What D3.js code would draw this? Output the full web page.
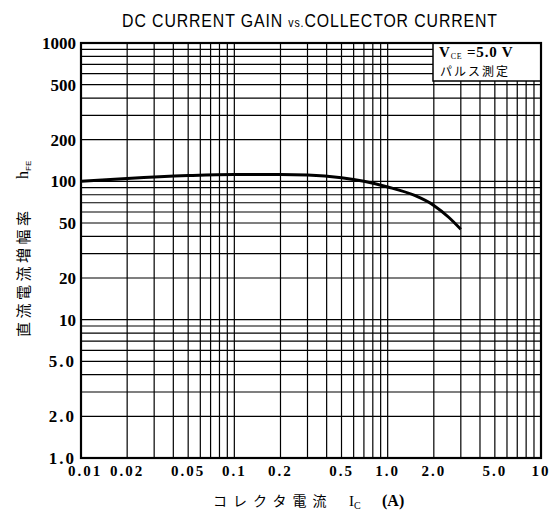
<!DOCTYPE html>
<html>
<head>
<meta charset="utf-8">
<script src="https://cdn.jsdelivr.net/npm/d3@7"></script>
<style>
  body { margin: 0; background: #fff; }
  svg { display: block; }
  text { fill: #000; }
</style>
</head>
<body>
<div id="chart"></div>
<script>
// データ (hFE vs Ic)
const icValues = [0.01, 0.02, 0.05, 0.1, 0.2, 0.3, 0.5, 0.7, 1.0, 1.5, 2.0, 2.5, 3.0];
const hfeValues = [100, 105, 110, 112, 112, 111, 106, 100, 91, 79, 67, 55, 45];
const xTicks = [0.01, 0.02, 0.05, 0.1, 0.2, 0.5, 1, 2, 5, 10];
const xTickLabels = ["0.01", "0.02", "0.05", "0.1", "0.2", "0.5", "1.0", "2.0", "5.0", "10"];
const yTicks = [1, 2, 5, 10, 20, 50, 100, 200, 500, 1000];
const yTickLabels = ["1.0", "2.0", "5.0", "10", "20", "50", "100", "200", "500", "1000"];

const margin = {top: 43, right: 17, bottom: 54, left: 81};
const W = 558, H = 512;
const width = W - margin.left - margin.right;
const height = H - margin.top - margin.bottom;

const svg = d3.select("#chart")
    .append("svg")
    .attr("width", W)
    .attr("height", H);

const g = svg.append("g")
    .attr("transform", `translate(${margin.left},${margin.top})`);

const x = d3.scaleLog().domain([0.01, 10]).range([0, width]);
const y = d3.scaleLog().domain([1, 1000]).range([height, 0]);

// グリッド (1〜9 ごと)
const gridX = [], gridY = [];
[0.01, 0.1, 1].forEach(d => { for (let k = 1; k < 10; k++) gridX.push(d * k); });
[1, 10, 100].forEach(d => { for (let k = 1; k < 10; k++) gridY.push(d * k); });

g.selectAll(".gx").data(gridX).join("line")
    .attr("x1", d => x(d)).attr("x2", d => x(d))
    .attr("y1", 0).attr("y2", height)
    .attr("stroke", "#000")
    .attr("stroke-width", 1.2);

g.selectAll(".gy").data(gridY).join("line")
    .attr("x1", 0).attr("x2", width)
    .attr("y1", d => y(d)).attr("y2", d => y(d))
    .attr("stroke", "#000")
    .attr("stroke-width", 1.2);

// 凡例の箱
const legend = g.append("g").attr("transform", `translate(${width - 108},0)`);
legend.append("rect")
    .attr("width", 108).attr("height", 38)
    .attr("fill", "#fff").attr("stroke", "#000").attr("stroke-width", 1.5);
const lt = legend.append("text")
    .attr("x", 6).attr("y", 14)
    .style("font-family", "Liberation Serif, serif")
    .style("font-weight", "bold")
    .style("font-size", "15px")
    .style("letter-spacing", "0.8px");
lt.append("tspan").text("V");
lt.append("tspan").attr("dy", 2).style("font-size", "8px").style("font-weight", "normal").text("CE");
lt.append("tspan").attr("dy", -2).text(" =5.0  V");
legend.append("text")
    .attr("x", 7).attr("y", 33)
    .style("font-family", "Noto Sans CJK JP, sans-serif")
    .style("font-size", "12px")
    .style("letter-spacing", "2px")
    .text("パルス測定");

// 枠
g.append("rect")
    .attr("width", width).attr("height", height)
    .attr("fill", "none").attr("stroke", "#000").attr("stroke-width", 2.2);

// 曲線
const line = d3.line()
    .x((d, i) => x(icValues[i]))
    .y(d => y(d))
    .curve(d3.curveMonotoneX);

g.append("path")
    .datum(hfeValues)
    .attr("d", line)
    .attr("fill", "none")
    .attr("stroke", "#000")
    .attr("stroke-width", 3);

// 目盛ラベル
g.selectAll(".yl").data(yTicks).join("text")
    .attr("x", -5)
    .attr("y", d => y(d))
    .attr("dy", "0.35em")
    .attr("text-anchor", "end")
    .style("font-family", "Liberation Serif, serif")
    .style("font-weight", "bold")
    .style("font-size", "17px")
    .style("letter-spacing", d => d < 10 ? "2px" : "0px")
    .text((d, i) => yTickLabels[i]);

g.selectAll(".xl").data(xTicks).join("text")
    .attr("x", (d, i) => x(d) + (i === 0 ? 4 : 0))
    .attr("y", height + 18)
    .attr("text-anchor", "middle")
    .style("font-family", "Liberation Serif, serif")
    .style("font-weight", "bold")
    .style("font-size", "15px")
    .style("letter-spacing", "2px")
    .text((d, i) => xTickLabels[i]);

// タイトル (幅を合わせる)
const title = svg.append("text")
    .attr("text-anchor", "middle")
    .style("font-family", "Liberation Sans, sans-serif")
    .style("font-size", "18px")
    .style("letter-spacing", "1px");
title.append("tspan").text("DC CURRENT GAIN ");
title.append("tspan").style("font-size", "12px").text("vs.");
title.append("tspan").text("COLLECTOR CURRENT");
const tw = title.node().getBBox().width;
title.attr("transform", `translate(310,27) scale(${376 / tw},1)`);

// 軸タイトル
const xt = svg.append("text")
    .attr("y", 506)
    .style("font-family", "Noto Sans CJK JP, sans-serif")
    .style("font-size", "14px");
xt.append("tspan").attr("x", 213).style("letter-spacing", "6px").text("コレクタ電流");
xt.append("tspan").attr("x", 349).style("font-family", "Liberation Serif, serif").style("font-size", "15px").text("I");
xt.append("tspan").attr("dy", 3).style("font-family", "Liberation Serif, serif").style("font-size", "10px").text("C");
xt.append("tspan").attr("x", 382).attr("dy", -3).style("font-family", "Liberation Serif, serif").style("font-weight", "bold").style("font-size", "16px").text("(A)");

svg.append("text")
    .attr("transform", "translate(29,337) rotate(-90)")
    .style("font-family", "Noto Sans CJK JP, sans-serif")
    .style("font-size", "15px")
    .style("letter-spacing", "3.5px")
    .text("直流電流増幅率");

const hfe = svg.append("text")
    .attr("transform", "translate(28,179) rotate(-90)")
    .style("font-family", "Liberation Serif, serif")
    .style("font-size", "16px");
hfe.append("tspan").text("h");
hfe.append("tspan").attr("dy", 3).style("font-family", "Liberation Sans, sans-serif").style("font-size", "8px").text("FE");
</script>
</body>
</html>
